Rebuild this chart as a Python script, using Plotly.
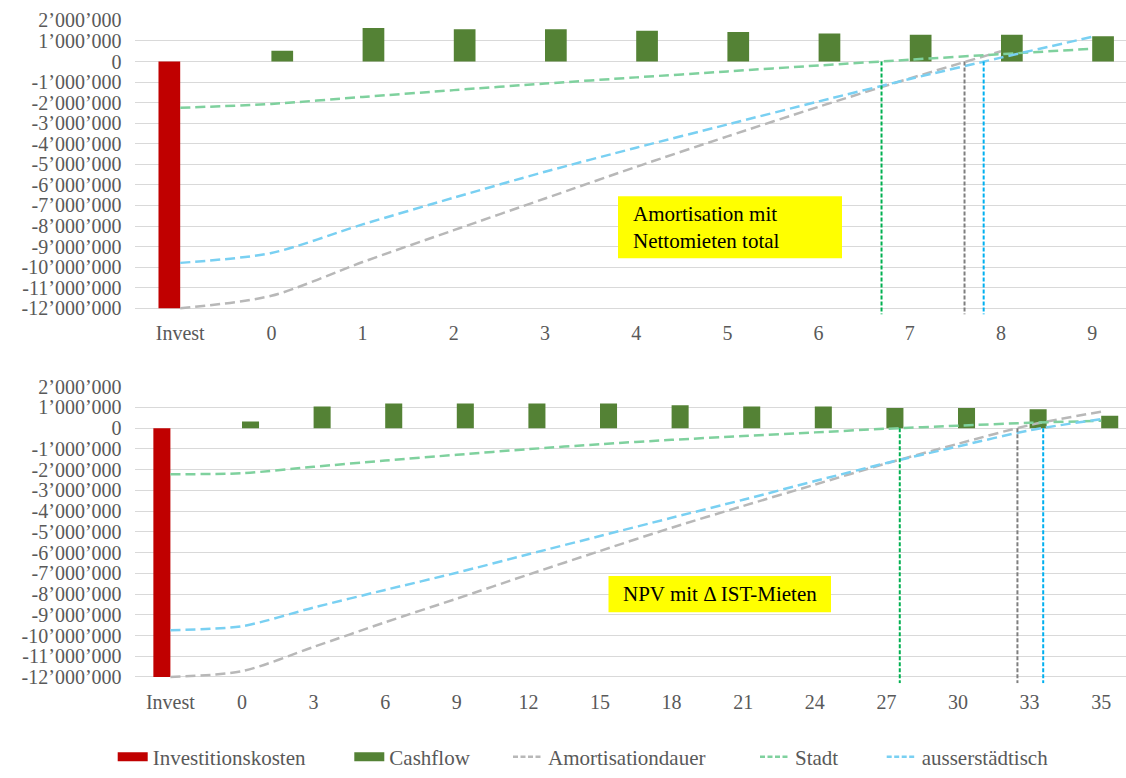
import numpy as np
import plotly.graph_objects as go

# ---------------- data ----------------
top_categories = ["Invest", "0", "1", "2", "3", "4", "5", "6", "7", "8", "9"]
top_years = [0, 1, 2, 3, 4, 5, 6, 7, 8, 9]
top_invest = [-12_000_000]
top_cashflow = [None, 530_000, 1_630_000, 1_570_000, 1_570_000, 1_500_000,
                1_440_000, 1_360_000, 1_300_000, 1_300_000, 1_230_000]
top_amort = [-12_000_000, -11_390_000, -9_750_000, -8_200_000, -6_660_000, -5_120_000,
             -3_640_000, -2_200_000, -820_000, 500_000, None]
top_stadt = [-2_250_000, -2_060_000, -1_720_000, -1_390_000, -1_070_000, -770_000,
             -480_000, -190_000, 90_000, 360_000, 620_000]
top_aussen = [-9_790_000, -9_310_000, -7_920_000, -6_620_000, -5_360_000, -4_190_000,
              -3_060_000, -1_940_000, -850_000, 190_000, 1_200_000]
top_payback = {"Stadt": 6.69, "Amortisationdauer": 7.60, "ausserstädtisch": 7.81}

bottom_categories = ["Invest", "0", "3", "6", "9", "12", "15", "18", "21", "24",
                     "27", "30", "33", "35"]
bottom_years = [0, 3, 6, 9, 12, 15, 18, 21, 24, 27, 30, 33, 35]
bottom_invest = [-12_000_000]
bottom_cashflow = [None, 330_000, 1_050_000, 1_190_000, 1_190_000, 1_190_000, 1_190_000,
                   1_110_000, 1_050_000, 1_050_000, 980_000, 980_000, 920_000, 600_000]
bottom_amort = [-12_000_000, -11_720_000, -10_550_000, -9_360_000, -8_220_000, -7_060_000,
                -5_920_000, -4_800_000, -3_750_000, -2_720_000, -1_700_000, -750_000,
                150_000, 800_000]
bottom_stadt = [-2_220_000, -2_170_000, -1_860_000, -1_560_000, -1_280_000, -1_010_000,
                -770_000, -560_000, -380_000, -200_000, -25_000, 120_000, 260_000, 360_000]
bottom_aussen = [-9_740_000, -9_550_000, -8_650_000, -7_800_000, -6_970_000, -6_080_000,
                 -5_200_000, -4_320_000, -3_450_000, -2_550_000, -1_680_000, -880_000,
                 -100_000, 440_000]
bottom_payback = {"Stadt": 27.56, "Amortisationdauer": 32.49, "ausserstädtisch": 33.38}

y_ticks = list(range(-12_000_000, 2_000_001, 1_000_000))

# ---------------- styling ----------------
FONT = "Liberation Serif, Times New Roman, serif"
TICK_GREY = "#595959"
GRID = "#d9d9d9"
RED = "#c00000"
DARK_GREEN = "#548235"
LINE_COLORS = {"Amortisationdauer": "#b8b8b8", "Stadt": "#7fd19e", "ausserstädtisch": "#79d0f2"}
PAYBACK_COLORS = {"Amortisationdauer": "#7f7f7f", "Stadt": "#00b050", "ausserstädtisch": "#00b0f0"}


def swiss(v):
    s = f"{abs(v):,}".replace(",", "\u2019")
    return ("-" if v < 0 else "") + s


y_ticktext = [swiss(v) for v in y_ticks]

fig = go.Figure()


def add_panel(xa, ya, cats, invest, cashflow, amort, stadt, aussen):
    fig.add_trace(go.Bar(x=cats[:1], y=invest, name="Investitionskosten", marker_color=RED,
                         marker_line_width=0, offsetgroup="inv", xaxis=xa, yaxis=ya,
                         showlegend=False))
    fig.add_trace(go.Bar(x=cats, y=cashflow, name="Cashflow", marker_color=DARK_GREEN,
                         marker_line_width=0, offsetgroup="cf", xaxis=xa, yaxis=ya,
                         showlegend=False))
    for name, vals in (("Amortisationdauer", amort), ("Stadt", stadt),
                       ("ausserstädtisch", aussen)):
        fig.add_trace(go.Scatter(x=cats, y=vals, name=name, mode="lines",
                                 line=dict(color=LINE_COLORS[name], width=2.5, dash="10px,5px",
                                           shape="spline", smoothing=0.8),
                                 xaxis=xa, yaxis=ya, showlegend=False))


add_panel("x", "y", top_categories, top_invest, top_cashflow, top_amort, top_stadt, top_aussen)
add_panel("x2", "y2", bottom_categories, bottom_invest, bottom_cashflow, bottom_amort,
          bottom_stadt, bottom_aussen)

W, H = 1126, 778

# legend entries, each in its own legend box so the spacing can be set per item
legend_items = [("Investitionskosten", dict(color=RED, width=9), 112.7),
                ("Cashflow", dict(color=DARK_GREEN, width=9), 349.3),
                ("Amortisationdauer", dict(color=LINE_COLORS["Amortisationdauer"], width=2.5,
                                           dash="5px,2.5px"), 508),
                ("Stadt", dict(color=LINE_COLORS["Stadt"], width=2.5, dash="5px,2.5px"), 755),
                ("ausserstädtisch", dict(color=LINE_COLORS["ausserstädtisch"], width=2.5,
                                         dash="5px,2.5px"), 881.7)]
legend_layout = {}
for i, (name, line, lx) in enumerate(legend_items):
    key = "legend" if i == 0 else f"legend{i + 1}"
    fig.add_trace(go.Scatter(x=[None], y=[None], name=name, mode="lines", line=line,
                             legend=key))
    legend_layout[key] = dict(orientation="h", x=lx / W, xanchor="left", y=1 - 768 / H,
                              yanchor="middle", bgcolor="rgba(0,0,0,0)", borderwidth=0,
                              font=dict(family=FONT, size=21, color=TICK_GREY),
                              itemclick=False, itemdoubleclick=False)

Y_BOTTOM = -12_300_000

# payback markers: vertical dashed lines from zero down to the axis
for xa, ya, years, payback in (("x", "y", top_years, top_payback),
                               ("x2", "y2", bottom_years, bottom_payback)):
    idx = np.arange(1, len(years) + 1)
    for name, yr in payback.items():
        pos = float(np.interp(yr, years, idx))
        fig.add_shape(type="line", xref=xa, yref=ya, x0=pos, x1=pos, y0=0, y1=Y_BOTTOM,
                      line=dict(color=PAYBACK_COLORS[name], width=2, dash="4px,2px"))

# text boxes
boxes = [
    ((618, 199, 842, 262), 631, 231, "Amortisation mit<br>Nettomieten total"),
    ((608.5, 584.3, 831, 621), 620.5, 603, "NPV mit \u0394 IST-Mieten"),
]
for (x0, y0, x1, y1), tx, ty, text in boxes:
    fig.add_shape(type="rect", xref="paper", yref="paper", x0=x0 / W, x1=x1 / W,
                  y0=1 - y1 / H, y1=1 - y0 / H, fillcolor="#ffff00", line_width=0,
                  layer="above")
    fig.add_annotation(xref="paper", yref="paper", x=tx / W, y=1 - ty / H, text=text,
                       showarrow=False, xanchor="left", yanchor="middle", align="left",
                       font=dict(family=FONT, size=21, color="#000000"))

x_left = 134.6 / W
axis_common = dict(tickfont=dict(family=FONT, size=20, color=TICK_GREY), automargin=False,
                   fixedrange=True)
xaxis_common = dict(type="category", showgrid=False, showline=False, zeroline=False,
                    ticks="outside", ticklen=1, tickcolor="rgba(0,0,0,0)", **axis_common)
yaxis_common = dict(range=[Y_BOTTOM, 2_000_500], tickvals=y_ticks, ticktext=y_ticktext,
                    showgrid=True, gridcolor=GRID, gridwidth=1, zeroline=True,
                    zerolinecolor=GRID, zerolinewidth=1, showline=False, ticks="outside",
                    ticklen=8, tickcolor="rgba(0,0,0,0)", **axis_common)
fig.update_layout(
    width=W, height=H,
    margin=dict(l=0, r=0, t=0, b=0),
    paper_bgcolor="white", plot_bgcolor="white",
    barmode="group", bargap=0.524, bargroupgap=0,
    font=dict(family=FONT, color=TICK_GREY),
    hovermode=False,
    xaxis=dict(domain=[x_left, 1], range=[-0.5, -0.5 + (W - 134.6) / 91.2], anchor="y",
               **xaxis_common),
    yaxis=dict(domain=[1 - 319 / H, 1 - 20.7 / H], anchor="x", **yaxis_common),
    xaxis2=dict(domain=[x_left, 1], range=[-0.5, -0.5 + (W - 134.6) / 71.6], anchor="y2",
                **xaxis_common),
    yaxis2=dict(domain=[1 - 693 / H, 1 - 392.3 / H], anchor="x2", **yaxis_common),
    **legend_layout,
)

fig.write_html("out.html")
